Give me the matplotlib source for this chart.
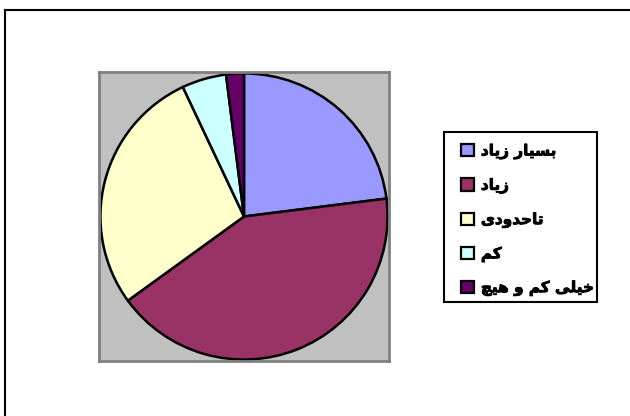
import matplotlib.pyplot as plt
import matplotlib.patheffects as pe
from matplotlib.patches import Patch, Rectangle
from matplotlib.lines import Line2D

labels = ['بسیار زیاد', 'زیاد', 'تاحدودی', 'کم', 'خیلی کم و هیچ']
shares = [23, 42, 28, 5, 2]
colors = ['#9999FF', '#993366', '#FFFFCC', '#CCFFFF', '#660066']

# presentation forms: (isolated, final, initial, medial); None -> joins right only
FORMS = {
    'ا': (0xFE8D, 0xFE8E, None, None),
    'ب': (0xFE8F, 0xFE90, 0xFE91, 0xFE92),
    'ت': (0xFE95, 0xFE96, 0xFE97, 0xFE98),
    'ح': (0xFEA1, 0xFEA2, 0xFEA3, 0xFEA4),
    'خ': (0xFEA5, 0xFEA6, 0xFEA7, 0xFEA8),
    'د': (0xFEA9, 0xFEAA, None, None),
    'ر': (0xFEAD, 0xFEAE, None, None),
    'ز': (0xFEAF, 0xFEB0, None, None),
    'س': (0xFEB1, 0xFEB2, 0xFEB3, 0xFEB4),
    'ک': (0xFED9, 0xFEDA, 0xFEDB, 0xFEDC),
    'ل': (0xFEDD, 0xFEDE, 0xFEDF, 0xFEE0),
    'م': (0xFEE1, 0xFEE2, 0xFEE3, 0xFEE4),
    'ه': (0xFEE9, 0xFEEA, 0xFEEB, 0xFEEC),
    'و': (0xFEED, 0xFEEE, None, None),
    'ی': (0xFEEF, 0xFEF0, 0xFEF3, 0xFEF4),
    'چ': (0xFB7A, 0xFB7B, 0xFB7C, 0xFB7D),
}


def shape(text):
    # join letters and reverse for left-to-right drawing
    out = []
    for i, ch in enumerate(text):
        f = FORMS.get(ch)
        if f is None:
            out.append(ch)
            continue
        prev = text[i - 1] if i > 0 else ''
        nxt = text[i + 1] if i + 1 < len(text) else ''
        join_prev = prev in FORMS and FORMS[prev][2] is not None
        join_next = nxt in FORMS and f[2] is not None
        if join_prev and join_next:
            code = f[3]
        elif join_prev:
            code = f[1]
        elif join_next:
            code = f[2]
        else:
            code = f[0]
        out.append(chr(code))
    return ''.join(reversed(out))


W, H = 630, 416
fig = plt.figure(figsize=(W / 100, H / 100), dpi=100)

# chart area frame (top and left edges)
fig.add_artist(Line2D([5 / W, 1], [1 - 10 / H, 1 - 10 / H], color='black', lw=1.5))
fig.add_artist(Line2D([5 / W, 5 / W], [1 - 10 / H, 0], color='black', lw=1.5))

ax = fig.add_axes([99 / W, 55 / H, 290 / W, 289 / H])
ax.pie(shares, colors=colors, startangle=90, counterclock=False,
       wedgeprops=dict(edgecolor='black', linewidth=1.8))
ax.set_frame_on(True)
ax.set_facecolor('#C0C0C0')
ax.set_xlim(-1.01, 1.01)
ax.set_ylim(-1.01, 1.01)
ax.set_aspect('auto')
ax.set_xticks([])
ax.set_yticks([])
for s in ax.spines.values():
    s.set_color('#808080')
    s.set_linewidth(2)

# legend box
fig.add_artist(Rectangle((444 / W, 1 - 302 / H), 153 / W, 170 / H,
                         transform=fig.transFigure, facecolor='white',
                         edgecolor='black', linewidth=1.5))
handles = [Patch(facecolor=c, edgecolor='black', linewidth=1.6) for c in colors]
leg = fig.legend(handles, [shape(t) for t in labels], loc='upper left',
                 bbox_to_anchor=(461 / W, 1 - 143.5 / H), frameon=False,
                 prop=dict(family='DejaVu Sans', weight='bold', size=11),
                 handlelength=0.85, handleheight=0.85, handletextpad=0.45,
                 labelspacing=1.2, borderpad=0, borderaxespad=0)
for t in leg.get_texts():
    t.set_path_effects([pe.withStroke(linewidth=0.6, foreground='black')])

fig.savefig('out.png', dpi=100)
